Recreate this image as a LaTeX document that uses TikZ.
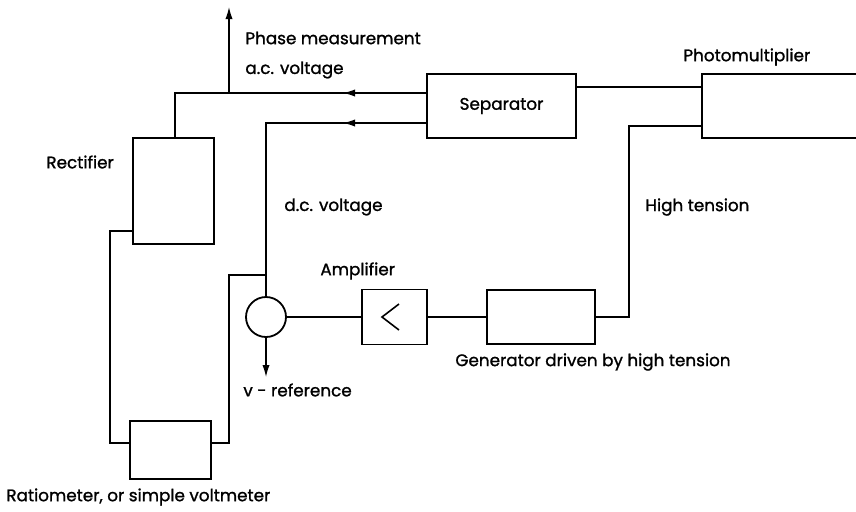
\documentclass[tikz,border=0pt]{standalone}
\usepackage{fontspec}
\setmainfont{Poppins}[FakeBold=1.2]
\usetikzlibrary{arrows.meta}
\begin{document}
\begin{tikzpicture}[x=0.5pt,y=-0.5pt,
  blk/.style={draw, line width=0.9pt, inner sep=0pt, font=\fontsize{8.4}{10}\selectfont},
  wire/.style={line width=0.6pt},
  arr/.style={wire, -{Latex[length=6pt,width=3.6pt]}},
  lbl/.style={inner sep=0pt, anchor=west, font=\fontsize{8.4}{10}\selectfont}]
\useasboundingbox (0,0) rectangle (856,511);
% blocks
\node[blk, minimum width=40.5pt, minimum height=53pt] (rect) at (173.5,191) {};
\node[blk, minimum width=74.5pt, minimum height=32pt] (sep) at (501.5,106) {Separator};
\node[blk, minimum width=99pt, minimum height=32pt] (pm) at (801,106) {};
\node[draw, circle, minimum size=20pt, line width=0.9pt, inner sep=0pt] (circ) at (266,317) {};
\node[blk, minimum width=32.5pt, minimum height=27.5pt] (amp) at (394.5,317) {};
\node[blk, minimum width=54pt, minimum height=27pt] (gen) at (541,317) {};
\node[blk, minimum width=40.5pt, minimum height=29pt] (ratio) at (170.5,450) {};
\draw[line width=0.8pt] (399,304) -- (382,317) -- (399,330);
% labels
\node[lbl] (lph) at (245,38) {Phase measurement};
\node[lbl] (lac) at (245,70) {a.c. voltage};
\node[lbl] (lpm) at (683,57) {Photomultiplier};
\node[lbl] (lre) at (46,162) {Rectifier};
\node[lbl] (ldc) at (284,207) {d.c. voltage};
\node[lbl] (lht) at (645,207) {High tension};
\node[lbl] (lam) at (320,271) {Amplifier};
\node[lbl] (lvr) at (243,390) {v - reference};
\node[lbl] (lge) at (455,362) {Generator driven by high tension};
\node[lbl] (lra) at (6,497) {Ratiometer, or simple voltmeter};
% coordinates
\coordinate (acL) at (175,93);
\coordinate (phT) at (229,7);
\coordinate (acA) at (343,93);
\coordinate (dcL) at (266,123);
\coordinate (dcA) at (343,123);
\coordinate (brJ) at (266,275);
\coordinate (brL) at (229,275);
\coordinate (rtR) at (229,443);
\coordinate (lfB) at (110,443);
\coordinate (lfT) at (110,231);
\coordinate (sp) at (600,87);
\coordinate (htT) at (629,126);
\coordinate (htB) at (629,317);
\coordinate (vref) at (266,377);
% wires
\draw[wire] (sep.west |- acL) -- (acL) -- (acL |- rect.north);
\draw[arr] (sep.west |- acA) -- (acA);
\draw[arr] (phT |- acL) -- (phT);
\draw[wire] (sep.west |- dcL) -- (dcL) -- (circ.north);
\draw[arr] (sep.west |- dcA) -- (dcA);
\draw[wire] (brJ) -- (brL) -- (rtR) -- (rtR -| ratio.east);
\draw[wire] (lfB -| ratio.west) -- (lfB) -- (lfT) -- (lfT -| rect.west);
\draw[wire] (sep.east |- sp) -- (pm.west |- sp);
\draw[wire] (pm.west |- htT) -- (htT) -- (htB) -- (gen.east);
\draw[wire] (circ.east) -- (amp.west);
\draw[wire] (amp.east) -- (gen.west);
\draw[arr] (circ.south) -- (vref);
\end{tikzpicture}
\end{document}
